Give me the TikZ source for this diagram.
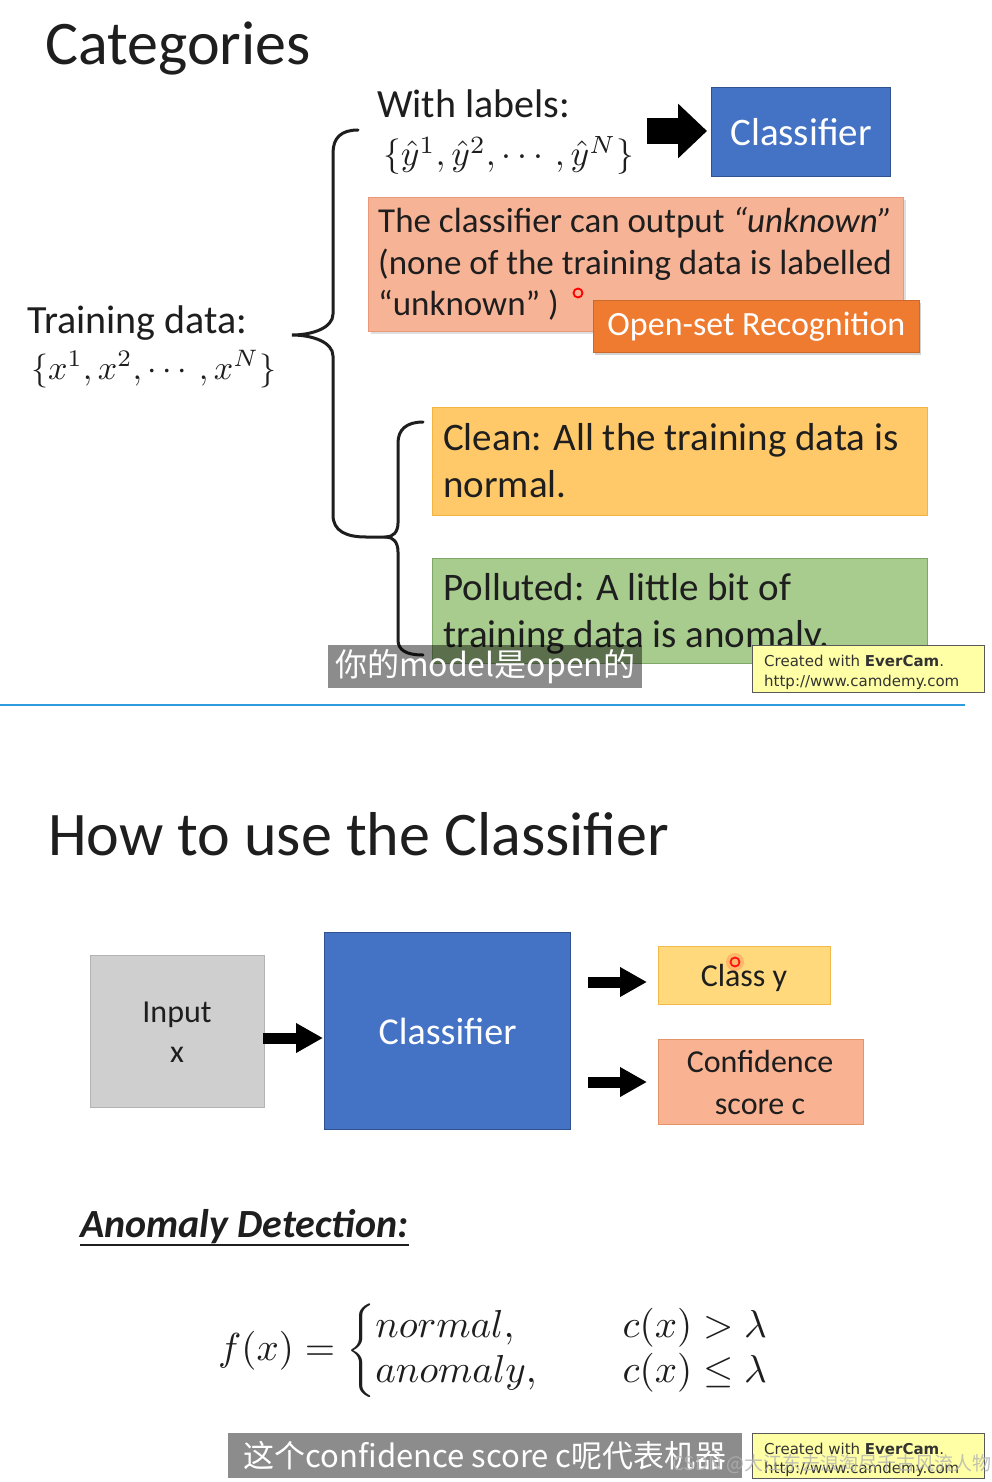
\documentclass[tikz,border=0pt]{standalone}
\usepackage{amsmath}
\usepackage{graphicx}
\usepackage{fontspec}
\setmainfont{Carlito}
\newfontfamily\cjk{Noto Sans CJK SC}
\newfontfamily\ecam{DejaVu Sans}
\usetikzlibrary{arrows.meta,shadows}
\definecolor{clsblue}{HTML}{4472C4}
\definecolor{clsblueD}{HTML}{2F528F}
\definecolor{salmon}{HTML}{F7B396}
\definecolor{salmonD}{HTML}{E9987A}
\definecolor{osorange}{HTML}{EE7B30}
\definecolor{cleanfill}{HTML}{FFC96A}
\definecolor{cleanD}{HTML}{F3B540}
\definecolor{pollfill}{HTML}{A8CB8E}
\definecolor{pollD}{HTML}{7FA76A}
\definecolor{inputfill}{HTML}{CFCFCF}
\definecolor{inputD}{HTML}{B3B3B3}
\definecolor{classyfill}{HTML}{FFD97C}
\definecolor{classyD}{HTML}{F1B94A}
\definecolor{conffill}{HTML}{F9B392}
\definecolor{confD}{HTML}{E59369}
\definecolor{ecamfill}{HTML}{FFFFA6}
\definecolor{sepblue}{HTML}{2E9AE0}
\definecolor{ink}{HTML}{1E1E1E}
\newcommand\fsz[2]{\fontsize{#1}{#2}\selectfont}
\begin{document}
\begin{tikzpicture}[x=1pt,y=-1pt,
  txt/.style={inner sep=0pt, anchor=base west, text=ink},
  rbox/.style={inner sep=0pt, anchor=north west, line width=1.2pt},
  bigarr/.style={line width=26pt, -{Triangle[length=29pt,width=53pt]}},
  smallarr/.style={line width=11pt, -{Triangle[length=27pt,width=28pt]}},
  bracepath/.style={line width=3pt, line cap=round, draw=ink},
  subbox/.style={inner sep=0pt, anchor=north west, fill=black, fill opacity=0.45, text opacity=1, text=white},
  ecbox/.style={rbox, fill=ecamfill, draw=black!65, line width=1pt},
  marker/.style={draw=red, line width=1.8pt}
]
\useasboundingbox[fill=white] (0,0) rectangle (992,1482);

% ---------------- top section ----------------
\node[txt] (cat) at (45,65) {\fsz{62}{70}Categories};

\node[txt] (wl) at (377,118) {\fsz{40}{48}With labels:};
\node[txt] (yset) at (383,166) {\scalebox{3.55}{$\{\hat{y}^1,\hat{y}^2,\cdots,\hat{y}^N\}$}};

\node[rbox, fill=clsblue, draw=clsblueD, minimum width=179pt, minimum height=89pt] (cl1) at (711,87) {};
\node[inner sep=0pt, text=white] (cl1t) at (cl1.center) {\fsz{39}{46}Classifier};
\coordinate (ya) at (647,131);
\draw[bigarr, shorten >=4pt] (ya) -- (cl1.west |- ya);

\node[txt] (td) at (27,333) {\fsz{40}{48}Training data:};
\node[txt] (xset) at (31,379) {\scalebox{3.4}{$\{x^1,x^2,\cdots,x^N\}$}};

% salmon box
\node[rbox, fill=salmon, draw=salmonD, minimum width=535pt, minimum height=134pt,
      drop shadow={opacity=0.25, shadow xshift=2pt, shadow yshift=-2pt}] (unk) at (368,197) {};
\node[txt] (u1) at (378,232) {\fsz{35}{41}The classifier can output \textit{“unknown”}};
\node[txt] (u2) at (378,274) {\fsz{35}{41}(none of the training data is labelled};
\node[txt] (u3) at (378,315) {\fsz{35}{41}“unknown” )};
\draw[marker] (578,293) circle (4.5);

\node[rbox, fill=osorange, draw=osorange!85!black, line width=0.8pt, minimum width=326pt, minimum height=52pt,
      drop shadow={opacity=0.35, shadow xshift=2pt, shadow yshift=-3pt}] (osr) at (593,300) {};
\node[inner sep=0pt, text=white] (osrt) at (osr.center) {\fsz{34}{40}Open-set Recognition};

% clean / polluted boxes
\node[rbox, fill=cleanfill, draw=cleanD, minimum width=495pt, minimum height=108pt] (clean) at (432,407) {};
\node[txt] (c1) at (443,450) {\fsz{39}{47}Clean: All the training data is};
\node[txt] (c2) at (443,497) {\fsz{39}{47}normal.};

\node[rbox, fill=pollfill, draw=pollD, minimum width=495pt, minimum height=105pt] (poll) at (432,558) {};
\node[txt] (p1) at (443,600) {\fsz{39}{47}Polluted: A little bit of};
\node[txt] (p2) at (443,647) {\fsz{39}{47}training data is anomaly.};

% braces
\draw[bracepath] (358,130) .. controls (341,130) and (333,138) .. (333,153) -- (333,314)
   .. controls (333,328) and (312,335) .. (292,335)
   .. controls (312,335) and (333,342) .. (333,356) -- (333,515)
   .. controls (333,531) and (346,537) .. (366,537) -- (386,537);
\draw[bracepath] (423,422) .. controls (406,422) and (398,430) .. (398,443) -- (398,523)
   .. controls (398,532) and (393,537) .. (386,537)
   .. controls (393,537) and (398,542) .. (398,552) -- (398,640)
   .. controls (398,650) and (406,655) .. (423,655);

% overlays
\node[subbox, minimum width=314pt, minimum height=43pt] (sub1) at (328,645) {};
\node[inner sep=0pt, text=white] (sub1t) at (sub1.center) {\fsz{32}{38}\cjk 你的model是open的};

\node[ecbox, minimum width=232pt, minimum height=47pt] (ec1) at (752,645) {};
\node[inner sep=0pt, anchor=base west, text=black!80] (ec1a) at (764,666) {\fsz{15}{18}\ecam Created with \textbf{EverCam}.};
\node[inner sep=0pt, anchor=base west, text=black!80] (ec1b) at (764,686) {\fsz{15}{18}\ecam http://www.camdemy.com};

\coordinate (sepL) at (0,705);
\coordinate (sepR) at (965,705);
\draw[sepblue, line width=2pt] (sepL) -- (sepR);

% ---------------- bottom section ----------------
\node[txt] (how) at (48,855) {\fsz{62}{70}How to use the Classifier};

\node[rbox, fill=inputfill, draw=inputD, minimum width=174pt, minimum height=152pt] (inp) at (90,955) {};
\node[txt, anchor=base] (inp1) at (177,1022) {\fsz{32}{40}Input};
\node[txt, anchor=base] (inp2) at (177,1062) {\fsz{32}{40}x};

\node[rbox, fill=clsblue, draw=clsblueD, minimum width=246pt, minimum height=197pt] (clf) at (324,932) {};
\node[inner sep=0pt, text=white] (clft) at (clf.center) {\fsz{38}{46}Classifier};

\node[rbox, fill=classyfill, draw=classyD, minimum width=172pt, minimum height=58pt] (cy) at (658,946) {};
\node[txt, anchor=base] (cyt) at (744,986) {\fsz{32}{40}Class y};
\draw[red!90, line width=1.8pt] (735,962) circle (4.5);
\fill[red, opacity=0.15] (735,962) circle (9);

\node[rbox, fill=conffill, draw=confD, minimum width=205pt, minimum height=85pt] (conf) at (658,1039) {};
\node[txt, anchor=base] (cf1) at (760,1072) {\fsz{32}{40}Confidence};
\node[txt, anchor=base] (cf2) at (760,1114) {\fsz{32}{40}score c};

\coordinate (a0) at (263,1038);
\draw[smallarr, shorten >=1pt] (a0) -- (a0 -| clf.west);
\coordinate (a1) at (588,982);
\draw[smallarr, shorten >=11pt] (a1) -- (a1 -| cy.west);
\coordinate (a2) at (588,1082);
\draw[smallarr, shorten >=11pt] (a2) -- (a2 -| conf.west);

\node[txt] (ad) at (80,1237) {\fsz{40}{46}\textbf{\textit{Anomaly Detection:}}};
\draw[ink, line width=2.5pt] ([yshift=-8pt]ad.base west) -- ([yshift=-8pt]ad.base east);

\node[inner sep=0pt, anchor=west, text=ink] (fx) at (218,1351) {\scalebox{3.9}{$f(x)=\left\{\renewcommand{\arraystretch}{0.95}\begin{array}{@{}l@{\hspace{22pt}}l@{}} normal, & c(x)>\lambda\\ anomaly, & c(x)\le\lambda\end{array}\right.$}};

\node[subbox, minimum width=514pt, minimum height=45pt] (sub2) at (228,1433) {};
\node[inner sep=0pt, text=white] (sub2t) at (sub2.center) {\fsz{31}{37}\cjk 这个confidence score c呢代表机器};

\node[ecbox, minimum width=232pt, minimum height=45pt] (ec2) at (752,1433) {};
\node[inner sep=0pt, anchor=base west, text=black!80] (ec2a) at (764,1454) {\fsz{15}{18}\ecam Created with \textbf{EverCam}.};
\node[inner sep=0pt, anchor=base west, text=black!80] (ec2b) at (764,1473) {\fsz{15}{18}\ecam http://www.camdemy.com};

\node[inner sep=0pt, anchor=base west, text=gray!60, text opacity=0.8] (wm) at (672,1470) {\fsz{19}{22}\cjk CSDN @大江东去浪淘尽千古风流人物};
\end{tikzpicture}
\end{document}
